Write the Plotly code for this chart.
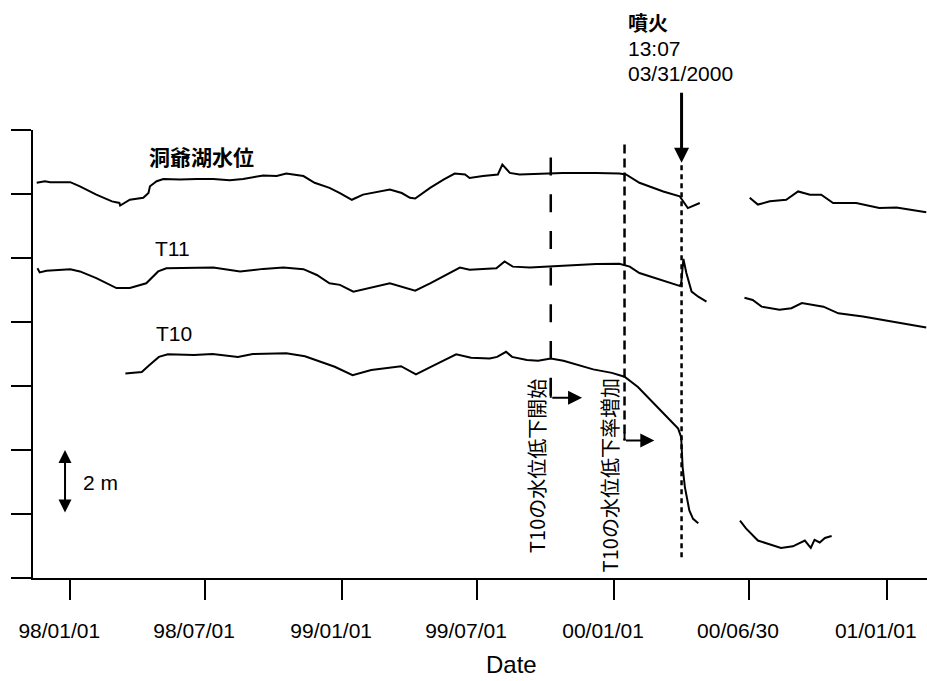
import plotly.graph_objects as go

LATIN = "Liberation Sans, Arial, sans-serif"
CJK = "Noto Sans CJK JP, Liberation Sans, sans-serif"

# ---- relative water levels (m); None marks the data gap after the eruption ----
lake_dates = [
    "1997-11-17", "1997-11-28", "1997-12-05", "1998-01-01", "1998-01-14", "1998-02-05",
    "1998-02-26", "1998-03-08", "1998-03-09", "1998-03-22", "1998-04-09", "1998-04-16",
    "1998-04-18", "1998-04-27", "1998-05-06", "1998-05-28", "1998-06-20", "1998-07-12",
    "1998-08-03", "1998-08-21", "1998-09-17", "1998-10-05", "1998-10-18", "1998-11-10",
    "1998-11-25", "1998-12-15", "1998-12-29", "1999-01-14", "1999-01-29", "1999-03-06",
    "1999-03-22", "1999-04-02", "1999-04-09", "1999-04-16", "1999-04-29", "1999-05-17",
    "1999-06-01", "1999-06-15", "1999-06-21", "1999-07-09", "1999-07-29", "1999-08-04",
    "1999-08-14", "1999-08-27", "1999-09-19", "1999-10-24", "1999-12-08", "2000-01-08",
    "2000-01-17", "2000-02-04", "2000-03-07", "2000-03-29", "2000-04-09", "2000-04-25",
    None,
    "2000-07-01", "2000-07-12", "2000-07-28", "2000-08-19", "2000-09-04", "2000-09-20",
    "2000-10-05", "2000-10-21", "2000-11-21", "2000-12-22", "2001-01-14", "2001-02-23",
]
lake_level = [
    12.35, 12.40, 12.37, 12.37, 12.24, 11.98,
    11.77, 11.72, 11.64, 11.82, 11.88, 12.03,
    12.24, 12.40, 12.47, 12.45, 12.47, 12.47,
    12.43, 12.47, 12.58, 12.56, 12.64, 12.56,
    12.35, 12.19, 12.03, 11.82, 11.98, 12.14,
    12.03, 11.88, 11.86, 11.98, 12.19, 12.45,
    12.64, 12.61, 12.50, 12.56, 12.61, 12.92,
    12.66, 12.61, 12.63, 12.66, 12.66, 12.64,
    12.61, 12.35, 12.08, 11.93, 11.56, 11.72,
    None,
    11.88, 11.67, 11.77, 11.82, 12.08, 11.98,
    11.98, 11.72, 11.72, 11.56, 11.58, 11.43,
]

t11_dates = [
    "1997-11-18", "1997-11-21", "1997-11-30", "1998-01-01", "1998-01-14", "1998-02-05",
    "1998-03-04", "1998-03-22", "1998-04-13", "1998-04-29", "1998-05-10", "1998-06-20",
    "1998-07-12", "1998-08-17", "1998-09-17", "1998-10-14", "1998-11-10", "1998-11-28",
    "1998-12-15", "1998-12-29", "1999-01-16", "1999-03-06", "1999-04-09", "1999-04-29",
    "1999-06-08", "1999-06-21", "1999-07-27", "1999-08-07", "1999-08-18", "1999-09-10",
    "1999-10-24", "1999-12-08", "2000-01-08", "2000-01-22", "2000-02-04", "2000-03-07",
    "2000-03-29", "2000-03-31", "2000-04-03", "2000-04-07", "2000-04-14", "2000-04-23",
    "2000-05-04",
    None,
    "2000-06-24", "2000-07-05", "2000-07-17", "2000-08-10", "2000-08-26", "2000-09-09",
    "2000-10-08", "2000-10-28", "2000-11-30", "2001-01-14", "2001-02-23",
]
t11_level = [
    9.68, 9.55, 9.60, 9.65, 9.58, 9.37,
    9.06, 9.06, 9.21, 9.58, 9.68, 9.68,
    9.70, 9.58, 9.66, 9.70, 9.65, 9.47,
    9.21, 9.16, 8.95, 9.21, 8.98, 9.21,
    9.70, 9.63, 9.68, 9.89, 9.73, 9.70,
    9.76, 9.81, 9.82, 9.73, 9.53, 9.29,
    9.13, 9.19, 9.97, 9.53, 8.95, 8.79,
    8.64,
    None,
    8.76, 8.69, 8.48, 8.38, 8.43, 8.59,
    8.48, 8.27, 8.17, 7.99, 7.83,
]

t10_dates = [
    "1998-03-16", "1998-04-07", "1998-04-17", "1998-04-30", "1998-05-12", "1998-06-16",
    "1998-07-11", "1998-08-14", "1998-09-03", "1998-10-18", "1998-11-12", "1998-12-02",
    "1998-12-22", "1999-01-15", "1999-02-09", "1999-03-21", "1999-04-10", "1999-04-30",
    "1999-06-03", "1999-06-23", "1999-07-18", "1999-07-28", "1999-08-09", "1999-08-17",
    "1999-09-06", "1999-09-21", "1999-10-08", "1999-10-25", "1999-11-14", "1999-12-04",
    "1999-12-29", "2000-01-15", "2000-02-02", "2000-02-21", "2000-03-12", "2000-03-27",
    "2000-03-31", "2000-04-02", "2000-04-05", "2000-04-11", "2000-04-16", "2000-04-23",
    None,
    "2000-06-18", "2000-06-26", "2000-07-12", "2000-07-28", "2000-08-12", "2000-08-28",
    "2000-09-06", "2000-09-13", "2000-09-21", "2000-09-26", "2000-10-03", "2000-10-10",
    "2000-10-19",
]
t10_level = [
    6.39, 6.44, 6.65, 6.91, 6.99, 6.97,
    7.00, 6.91, 7.00, 7.02, 6.93, 6.76,
    6.60, 6.34, 6.50, 6.62, 6.36, 6.60,
    6.99, 6.88, 6.86, 6.91, 7.07, 6.91,
    6.81, 6.79, 6.86, 6.79, 6.65, 6.52,
    6.41, 6.29, 5.97, 5.50, 5.03, 4.67,
    4.40, 3.46, 2.84, 2.11, 1.85, 1.71,
    None,
    1.79, 1.55, 1.17, 1.06, 0.94, 0.99,
    1.08, 1.17, 0.94, 1.19, 1.11, 1.25,
    1.31,
]

tick_dates = ["1998-01-01", "1998-07-01", "1999-01-01", "1999-07-01",
              "2000-01-01", "2000-06-30", "2001-01-01"]
tick_text = ["98/01/01", "98/07/01", "99/01/01", "99/07/01",
             "00/01/01", "00/06/30", "01/01/01"]

eruption = "2000-03-31 13:07"
decline_start = "1999-10-08"
decline_faster = "2000-01-15"

fig = go.Figure()
for xs, ys in [(lake_dates, lake_level), (t11_dates, t11_level), (t10_dates, t10_level)]:
    fig.add_trace(go.Scatter(
        x=xs, y=ys, mode="lines", connectgaps=False,
        line=dict(color="black", width=2), hoverinfo="skip", showlegend=False,
    ))

# event markers: dashed verticals
fig.add_shape(type="line", xref="x", yref="y", x0=decline_start, x1=decline_start,
              y0=13.14, y1=5.63, line=dict(color="black", width=2.5, dash="18px,18.7px"))
fig.add_shape(type="line", xref="x", yref="y", x0=decline_faster, x1=decline_faster,
              y0=13.55, y1=4.30, line=dict(color="black", width=2.5, dash="9px,5px"))
fig.add_shape(type="line", xref="x", yref="y", x0=eruption, x1=eruption,
              y0=12.9, y1=0.63, line=dict(color="black", width=2.5, dash="5px,4px"))
# solid corner pieces where the elbow arrows leave the dashed lines
fig.add_shape(type="line", xref="x", yref="y", x0=decline_start, x1=decline_start,
              y0=6.24, y1=5.63, line=dict(color="black", width=2))
fig.add_shape(type="line", xref="x", yref="y", x0=decline_faster, x1=decline_faster,
              y0=4.55, y1=4.30, line=dict(color="black", width=2))

annotations = [
    # eruption arrow and its caption
    dict(x=eruption, y=12.98, ax=eruption, ay=15.21, xref="x", yref="y", axref="x", ayref="y",
         text="", showarrow=True, arrowhead=2, arrowsize=1, arrowwidth=3, arrowcolor="black"),
    dict(x=0.6633, y=1.241, xref="paper", yref="paper", xanchor="left", yanchor="middle",
         text="噴火", showarrow=False, font=dict(family=CJK, size=20, color="black", weight="bold")),
    dict(x=0.6633, y=1.183, xref="paper", yref="paper", xanchor="left", yanchor="middle",
         text="13:07", showarrow=False, font=dict(family=LATIN, size=21, color="black")),
    dict(x=0.6633, y=1.127, xref="paper", yref="paper", xanchor="left", yanchor="middle",
         text="03/31/2000", showarrow=False, font=dict(family=LATIN, size=21, color="black")),
    # elbow arrows at the foot of the dashed lines
    dict(x="1999-11-19", y=5.63, ax=decline_start, ay=5.63, xref="x", yref="y", axref="x", ayref="y",
         text="", showarrow=True, arrowhead=2, arrowsize=1.4, arrowwidth=2, arrowcolor="black"),
    dict(x="2000-02-24", y=4.30, ax=decline_faster, ay=4.30, xref="x", yref="y", axref="x", ayref="y",
         text="", showarrow=True, arrowhead=2, arrowsize=1.4, arrowwidth=2, arrowcolor="black"),
    # rotated event descriptions
    dict(x="1999-09-19", y=3.49, xref="x", yref="y", text="T10の水位低下開始", textangle=-90,
         showarrow=False, font=dict(family=CJK, size=20, color="black")),
    dict(x="1999-12-26", y=3.20, xref="x", yref="y", text="T10の水位低下率増加", textangle=-90,
         showarrow=False, font=dict(family=CJK, size=20, color="black")),
    # series labels
    dict(x="1998-06-26", y=13.20, xref="x", yref="y", text="洞爺湖水位", showarrow=False,
         font=dict(family=CJK, size=21, color="black", weight="bold")),
    dict(x="1998-05-18", y=10.29, xref="x", yref="y", text="T11", showarrow=False,
         font=dict(family=LATIN, size=21, color="black")),
    dict(x="1998-05-20", y=7.65, xref="x", yref="y", text="T10", showarrow=False,
         font=dict(family=LATIN, size=21, color="black")),
    # 2 m scale bar
    dict(x="1997-12-25", y=4.0, ax="1997-12-25", ay=2.0, xref="x", yref="y", axref="x", ayref="y",
         text="", showarrow=True, arrowhead=2, startarrowhead=2, arrowside="end+start",
         arrowsize=1.3, startarrowsize=1.3, arrowwidth=2, arrowcolor="black"),
    dict(x="1998-01-15", y=3.0, xref="x", yref="y", xanchor="left", text="2 m", showarrow=False,
         font=dict(family=LATIN, size=21, color="black")),
    # axis title
    dict(x=0.535, y=-0.194, xref="paper", yref="paper", xanchor="center", yanchor="middle",
         text="Date", showarrow=False, font=dict(family=LATIN, size=24, color="black")),
]

fig.update_layout(
    width=927, height=681,
    margin=dict(l=33, r=0, t=130, b=103),
    plot_bgcolor="white", paper_bgcolor="white",
    font=dict(family=LATIN, color="black"),
    showlegend=False,
    annotations=annotations,
)
fig.update_xaxes(
    type="date", range=["1997-11-12", "2001-02-24"],
    tickvals=tick_dates, ticktext=tick_text,
    ticks="outside", ticklen=20, tickwidth=2, tickcolor="black",
    showline=True, linewidth=2, linecolor="black",
    showgrid=False, zeroline=False,
    tickfont=dict(family=LATIN, size=21, color="black"),
    ticklabelshift=-11, ticklabelstandoff=13,
)
fig.update_yaxes(
    range=[0, 14], tickvals=[0, 2, 4, 6, 8, 10, 12, 14], showticklabels=False,
    ticks="outside", ticklen=20, tickwidth=2, tickcolor="black",
    showline=True, linewidth=2, linecolor="black",
    showgrid=False, zeroline=False,
)

fig.write_html("out.html")
